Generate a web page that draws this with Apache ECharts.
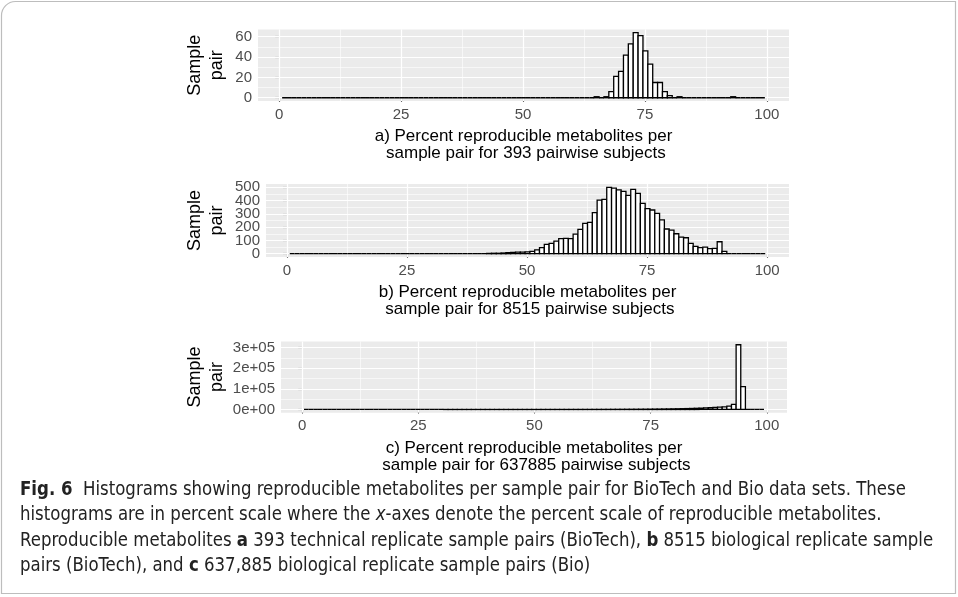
<!DOCTYPE html>
<html><head><meta charset="utf-8">
<script src="https://cdn.jsdelivr.net/npm/echarts@6/dist/echarts.min.js"></script>
<style>html,body{margin:0;padding:0;background:#fff}#c{width:958px;height:597px}</style>
</head><body><div id="c"></div><script>
// ---- data ----
const xTicks = [0, 25, 50, 75, 100];
const xMinor = [12.5, 37.5, 62.5, 87.5];
const binWidth = 1;

// panel a: 393 pairwise subjects
const edgeStartA = 0.6;
const countsA = [
  0,0,0,0,0,0,0,0,0,0,
  0,0,0,0,0,0,0,0,0,0,
  0,0,0,0,0,0,0,0,0,0,
  0,0,0,0,0,0,0,0,0,0,
  0,0,0,0,0,0,0,0,0,0,
  0,0,0,0,0,0,0,0,0,0,
  0,0,0,0,1,0,1,6,21,26,
  42,53,64,61,46,33,15,15,6,2,
  0,1,0,0,0,0,0,0,0,0,
  0,0,1,0,0,0,0,0,0
];
const yTicksA = [0, 20, 40, 60];
const yMinorA = [10, 30, 50];
const yLabelsA = ['0', '20', '40', '60'];

// panel b: 8515 pairwise subjects
const edgeStartB = 0.6;
const countsB = [
  0,0,0,0,0,0,0,0,0,0,
  0,0,0,0,0,0,0,0,0,0,
  0,0,0,0,0,0,0,0,0,0,
  0,0,0,0,0,0,0,0,0,0,
  0,2,3,3,5,8,10,12,12,14,
  18,28,45,70,78,95,113,115,113,148,
  183,228,236,309,404,409,500,494,480,470,
  439,484,454,379,339,329,304,254,186,178,
  150,125,120,78,55,45,50,38,40,90,
  18,0,0,0,0,0,0,0,0
];
const yTicksB = [0, 100, 200, 300, 400, 500];
const yMinorB = [50, 150, 250, 350, 450];
const yLabelsB = ['0', '100', '200', '300', '400', '500'];

// panel c: 637885 pairwise subjects
const edgeStartC = 0.4;
const countsC = [
  0,0,0,0,0,0,0,0,0,0,
  0,0,0,0,0,0,0,0,0,0,
  0,0,0,0,0,0,0,0,0,0,
  2,2,3,3,4,4,5,5,6,7,
  8,10,12,15,18,22,26,31,36,42,
  50,60,70,80,95,110,130,150,170,200,
  230,260,300,350,400,450,520,600,700,800,
  900,1000,1150,1300,1500,1700,1900,2200,2500,2900,
  3300,3800,4300,4900,5600,6400,7300,8300,9500,11000,
  13000,16000,25000,313000,110000,0,0,0,0
];
const yTicksC = [0, 100000, 200000, 300000];
const yMinorC = [50000, 150000, 250000];
const yLabelsC = ['0e+00', '1e+05', '2e+05', '3e+05'];

const xTitles = [
  'a) Percent reproducible metabolites per\n sample pair for 393 pairwise subjects',
  'b) Percent reproducible metabolites per\n sample pair for 8515 pairwise subjects',
  'c) Percent reproducible metabolites per\n sample pair for 637885 pairwise subjects'
];
const yTitle = 'Sample\npair';

// ---- layout ----
const grids = [
  { left: 258, top: 29.4, width: 531, height: 71.6 },
  { left: 266, top: 184.0, width: 523, height: 73.0 },
  { left: 281, top: 341.5, width: 506, height: 71.2 }
];
const panels = [
  { start: edgeStartA, counts: countsA, yt: yTicksA, ym: yMinorA, yl: yLabelsA },
  { start: edgeStartB, counts: countsB, yt: yTicksB, ym: yMinorB, yl: yLabelsB },
  { start: edgeStartC, counts: countsC, yt: yTicksC, ym: yMinorC, yl: yLabelsC }
];

const FONT = '"Liberation Sans", Arial, Helvetica, sans-serif';
const TICK_COLOR = '#333333';
const LABEL_COLOR = '#4D4D4D';

function renderHist(params, api) {
  const p0 = api.coord([api.value(0), 0]);
  const p1 = api.coord([api.value(1), api.value(2)]);
  return {
    type: 'polygon',
    shape: { points: [[p0[0], p0[1]], [p0[0], p1[1]], [p1[0], p1[1]], [p1[0], p0[1]]] },
    style: { fill: '#ffffff', stroke: '#000000', lineWidth: 1.3 }
  };
}

const option = {
  animation: false,
  backgroundColor: '#ffffff',
  grid: [], xAxis: [], yAxis: [], series: [], graphic: []
};

panels.forEach((p, i) => {
  const n = p.counts.length;
  const x0 = p.start, x1 = p.start + n * binWidth;
  const xr = x1 - x0;
  const ymaxData = Math.max(...p.counts);
  const ymin = -0.05 * ymaxData, ymax = 1.05 * ymaxData;
  const labelFmt = v => p.yl[p.yt.indexOf(v)];
  const yLabelStyle = { color: LABEL_COLOR, fontSize: 15, fontFamily: FONT, margin: 6, hideOverlap: false, formatter: labelFmt };
  option.grid.push(Object.assign({ show: true, backgroundColor: '#EBEBEB', borderWidth: 0 }, grids[i]));
  option.xAxis.push({
    type: 'value', gridIndex: i, min: x0 - 0.05 * xr, max: x1 + 0.05 * xr,
    axisLine: { show: false }, splitLine: { show: false },
    axisTick: { show: true, customValues: xTicks, length: 4, lineStyle: { color: TICK_COLOR, width: 1.1 } },
    axisLabel: { customValues: xTicks, color: LABEL_COLOR, fontSize: 15, fontFamily: FONT, margin: 6, hideOverlap: false }
  });
  // primary y axis: all ticks, labels at even positions
  option.yAxis.push({
    type: 'value', gridIndex: i, min: ymin, max: ymax,
    axisLine: { show: false }, splitLine: { show: false },
    axisTick: { show: true, customValues: p.yt, length: 4, lineStyle: { color: TICK_COLOR, width: 1.1 } },
    axisLabel: Object.assign({ customValues: p.yt.filter((v, k) => k % 2 === 0) }, yLabelStyle)
  });
  // companion y axis on the same scale: labels at odd positions
  option.yAxis.push({
    type: 'value', gridIndex: i, min: ymin, max: ymax, position: 'left',
    axisLine: { show: false }, splitLine: { show: false }, axisTick: { show: false },
    axisLabel: Object.assign({ customValues: p.yt.filter((v, k) => k % 2 === 1) }, yLabelStyle)
  });
  const majorLines = xTicks.map(v => ({ xAxis: v, lineStyle: { width: 1.2 } }))
    .concat(p.yt.map(v => ({ yAxis: v, lineStyle: { width: 1.2 } })));
  const minorLines = xMinor.map(v => ({ xAxis: v, lineStyle: { width: 0.6 } }))
    .concat(p.ym.map(v => ({ yAxis: v, lineStyle: { width: 0.6 } })));
  option.series.push({
    type: 'custom', xAxisIndex: i, yAxisIndex: 2 * i, z: 3,
    renderItem: renderHist,
    encode: { x: [0, 1], y: 2 },
    data: p.counts.map((c, k) => [x0 + k * binWidth, x0 + (k + 1) * binWidth, c]),
    markLine: {
      silent: true, symbol: 'none', z: 1, animation: false,
      label: { show: false },
      lineStyle: { color: '#ffffff', type: 'solid' },
      data: minorLines.concat(majorLines)
    }
  });
  // axis titles
  const g = grids[i];
  option.graphic.push({
    type: 'text', x: g.left + g.width / 2, y: g.top + g.height + 44,
    style: { text: xTitles[i], fill: '#000', font: '17px ' + FONT, align: 'center', verticalAlign: 'middle', lineHeight: 17.5 }
  });
  option.graphic.push({
    type: 'text', x: 206, y: g.top + g.height / 2, rotation: Math.PI / 2,
    style: { text: yTitle, fill: '#000', font: '18px ' + FONT, align: 'center', verticalAlign: 'middle', lineHeight: 22 }
  });
});

// figure caption
const CAP_FONT = '"Liberation Sans Narrow", "DejaVu Sans Condensed", sans-serif';
const capRich = {
  n: { fontFamily: CAP_FONT, fontSize: 19, fill: '#222' },
  b: { fontFamily: CAP_FONT, fontSize: 19, fontWeight: 'bold', fill: '#222' },
  i: { fontFamily: CAP_FONT, fontSize: 19, fontStyle: 'italic', fill: '#222' }
};
const captionLines = [
  '{b|Fig. 6}{n|  Histograms showing reproducible metabolites per sample pair for BioTech and Bio data sets. These}',
  '{n|histograms are in percent scale where the }{i|x}{n|-axes denote the percent scale of reproducible metabolites.}',
  '{n|Reproducible metabolites }{b|a}{n| 393 technical replicate sample pairs (BioTech), }{b|b}{n| 8515 biological replicate sample}',
  '{n|pairs (BioTech), and }{b|c}{n| 637,885 biological replicate sample pairs (Bio)}'
];
const captionY = [490, 515.5, 541, 566.5];
captionLines.forEach((t, k) => {
  option.graphic.push({
    type: 'text', x: 20, y: captionY[k], scaleX: 0.97,
    style: { text: t, rich: capRich, verticalAlign: 'middle', align: 'left' }
  });
});
// frame
option.graphic.push({
  type: 'rect', z: -1, shape: { x: 1.5, y: 1.5, width: 954, height: 592, r: [14, 0, 0, 0] },
  style: { fill: 'none', stroke: '#bdbdbd', lineWidth: 1.2 }
});

const chart = echarts.init(document.getElementById('c'), null, { renderer: 'canvas' });
chart.setOption(option);
</script></body></html>
